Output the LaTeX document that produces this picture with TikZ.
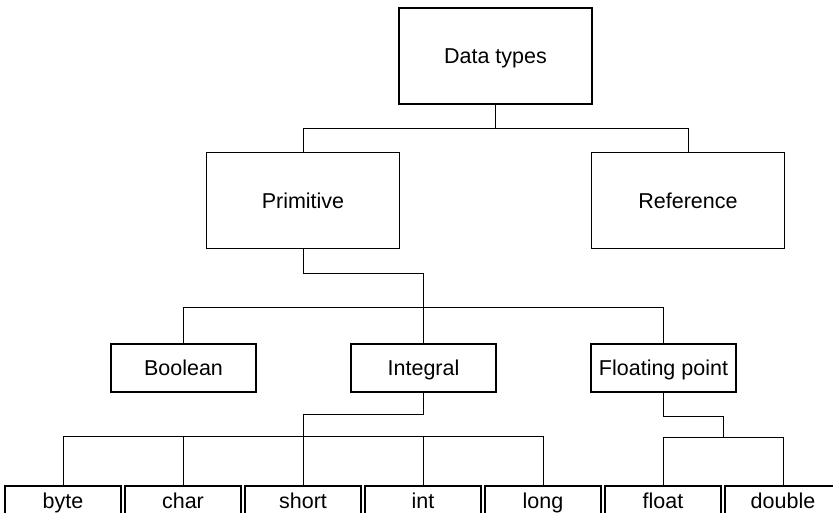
\documentclass[tikz,border=0pt]{standalone}
\usepackage{fontspec}
\setmainfont{Liberation Sans}
\usetikzlibrary{calc}
\begin{document}
\begin{tikzpicture}[x=1pt,y=-1pt,
  box/.style={draw, line width=1.3pt, inner sep=0pt, text height=15.5pt, text depth=0pt,
    font=\fontsize{21.5}{25}\selectfont},
  bigbox/.style={box, minimum width=193pt, minimum height=96pt},
  midbox/.style={box, minimum width=145pt, minimum height=48pt},
  leafbox/.style={box, minimum width=116pt, minimum height=30pt},
  link/.style={line width=0.9pt}]
\useasboundingbox (0,0) rectangle (833,512);
% top two levels
\node[bigbox] (dt) at (495.5,56) {Data types};
\node[bigbox] (prim) at (303,200.5) {Primitive};
\node[bigbox] (ref) at (688,200.5) {Reference};
% primitive categories
\node[midbox] (bool) at (183.5,368) {Boolean};
\node[midbox] (integ) at (423.5,368) {Integral};
\node[midbox] (fp) at (663.5,368) {Floating point};
% leaf types
\node[leafbox] (tbyte) at (63,501) {byte};
\node[leafbox] (tchar) at (183,501) {char};
\node[leafbox] (tshort) at (303,501) {short};
\node[leafbox] (tint) at (423,501) {int};
\node[leafbox] (tlong) at (543,501) {long};
\node[leafbox] (tfloat) at (663,501) {float};
\node[leafbox] (tdouble) at (783,501) {double};
% connectors
\draw[link] (dt.south) -- ++(0,24) -| (prim.north);
\draw[link] (dt.south) -- ++(0,24) -| (ref.north);
\draw[link] (prim.south) -- ++(0,24) -| (integ.north);
\draw[link] (bool.north) -- ++(0,-36) -| (fp.north);
\draw[link] (integ.south) -- ++(0,22) -| (tshort.north);
\draw[link] (tbyte.north) -- ++(0,-49) -| (tlong.north);
\draw[link] (tchar.north) -- ++(0,-49);
\draw[link] (tint.north) -- ++(0,-49);
\coordinate (fj) at ($(tfloat.north)!0.5!(tdouble.north)+(0,-48)$);
\draw[link] (fp.south) -- ++(0,24) -| (fj);
\draw[link] (tfloat.north) -- ++(0,-48) -| (tdouble.north);
\end{tikzpicture}
\end{document}
